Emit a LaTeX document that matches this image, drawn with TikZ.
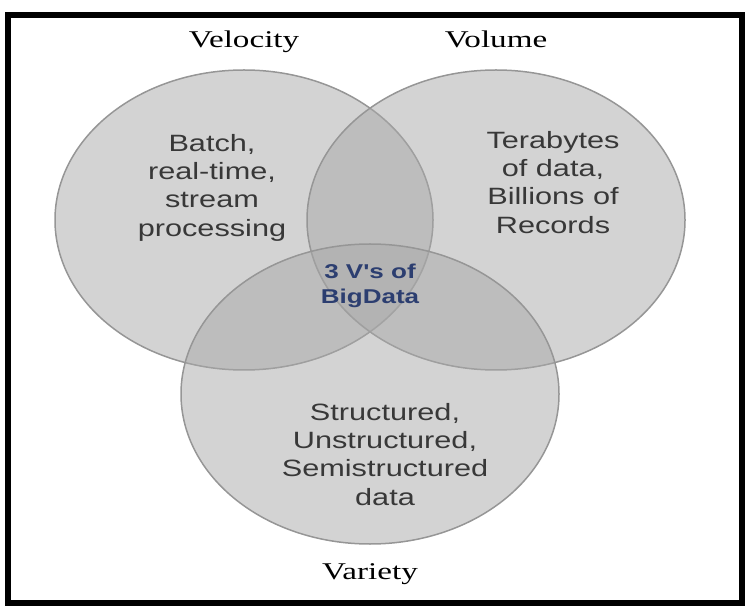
\documentclass[tikz,border=0pt]{standalone}
\usepackage{fontspec}
\setmainfont{Liberation Serif}
\setsansfont{Liberation Sans}
\usetikzlibrary{positioning}
\usetikzlibrary{shapes.geometric}

\definecolor{setfill}{RGB}{168,168,168}
\definecolor{setline}{RGB}{150,150,150}
\definecolor{coreblue}{RGB}{44,62,112}

% wide lettering, several centred lines
\newcommand{\wide}[2][1.3]{\scalebox{#1}[1]{\begin{tabular}{@{}c@{}}#2\end{tabular}}}

\begin{document}
\begin{tikzpicture}[x=0.5pt, y=-0.5pt, on grid, node distance=89pt,
    set/.style={ellipse, draw=setline, line width=0.75pt, fill=setfill,
                fill opacity=0.5, minimum width=189pt, minimum height=150pt,
                inner sep=0pt},
    title/.style={font=\fontsize{12}{14}\selectfont, inner sep=0pt},
    inside/.style={font=\sffamily\fontsize{11.8}{14.2}\selectfont,
                   text=black!78, inner sep=0pt},
    core/.style={font=\sffamily\bfseries\fontsize{10}{12.5}\selectfont,
                 text=coreblue, inner sep=0pt}]

        \useasboundingbox (0,0) rectangle (748,608);
        \draw[line width=3pt] (8,15) rectangle (742,603);

        % the three sets
        \node[set] (vel) at (244,220) {};
        \node[set] (vol) at (496,220) {};
        \node[set] (var) at (370,394) {};

        \node[title] (vel_t) [above=89pt of vel]   {\wide[1.38]{Velocity}};
        \node[title] (vol_t) [above=89pt of vol]   {\wide[1.38]{Volume}};
        \node[title] (var_t) [below=90pt of var]   {\wide[1.38]{Variety}};

        \node[inside] (vel_i) [above left=16pt and 16pt of vel]
            {\wide{Batch,\\real-time,\\stream\\processing}};
        \node[inside] (vol_i) [above right=17.5pt and 28.5pt of vol]
            {\wide{Terabytes\\of data,\\Billions of\\Records}};
        \node[inside] (var_i) [below right=31.5pt and 7.5pt of var]
            {\wide{Structured,\\Unstructured,\\Semistructured\\data}};

        \node[core] (core) [above=54pt of var]
            {\wide{3 V\textquotesingle s of\\BigData}};

      \end{tikzpicture}
\end{document}
